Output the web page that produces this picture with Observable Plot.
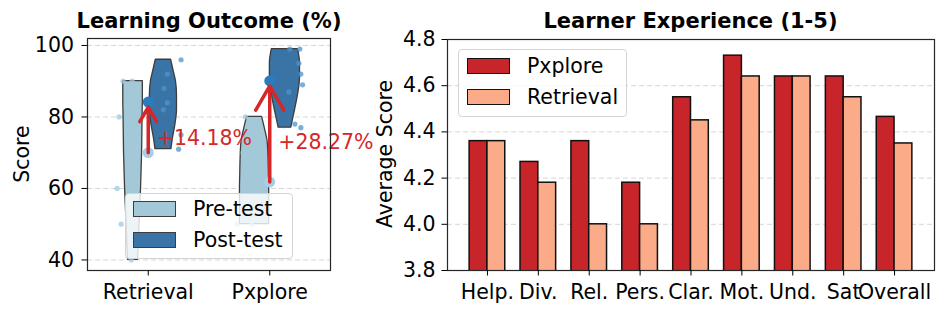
<!DOCTYPE html>
<html><head><meta charset="utf-8">
<script src="https://cdn.jsdelivr.net/npm/d3@7"></script>
<script src="https://cdn.jsdelivr.net/npm/@observablehq/plot@0.6"></script>
<style>
body{margin:0;background:#fff;font-family:"DejaVu Sans",sans-serif;color:#000;}
#root{position:relative;width:947px;height:316px;overflow:hidden;}
.title{position:absolute;font-weight:bold;font-size:21px;line-height:20px;white-space:nowrap;transform:translateX(-50%);}
.ylab{position:absolute;font-size:20.5px;line-height:20px;white-space:nowrap;transform:translate(-50%,-50%) rotate(-90deg);}
.legend{position:absolute;background:rgba(255,255,255,0.8);border:1px solid #d4d4d4;border-radius:4px;box-sizing:border-box;}
.sw{position:absolute;box-sizing:border-box;}
.lt{position:absolute;font-size:20.5px;line-height:20px;white-space:nowrap;}
</style>
</head><body>
<div id="root"></div>
<script>
// ---------- Learning Outcome data ----------
const groups = ["Retrieval", "Pxplore"];
const tests = ["Pre-test", "Post-test"];
const preMean = [70.0, 61.82];
const postMean = [84.18, 90.09];
const gainLabels = ["+14.18%", "+28.27%"];

// violin profiles (score level, relative density)
const retPreScore  = [40, 45, 50, 55, 60, 70, 80, 85, 90];
const retPreDens   = [0.33, 0.39, 0.43, 0.48, 0.53, 0.6, 0.63, 0.65, 0.65];
const retPostScore = [71, 74, 78, 82, 86, 90, 93, 96];
const retPostDens  = [0.53, 0.63, 0.8, 0.9, 0.9, 0.83, 0.67, 0.51];
const pxPreScore   = [50, 55, 60, 64, 68, 73, 77, 80];
const pxPreDens    = [0.97, 0.97, 0.97, 0.95, 0.93, 0.87, 0.67, 0.5];
const pxPostScore  = [77, 80, 84, 87, 91, 95, 99];
const pxPostDens   = [0.42, 0.57, 0.77, 0.9, 1.0, 1.0, 0.87];

// individual scores with their horizontal jitter
const retPrePts   = [90, 90, 80, 60, 50, 40];
const retPreJit   = [-0.207, -0.132, -0.24, -0.256, -0.223, -0.14];
const retPostPts  = [96, 92, 88, 84, 82, 75, 71];
const retPostJit  = [0.27, 0.157, 0.13, 0.157, 0.124, 0.27, 0.25];
const pxPrePts    = [80, 70, 50, 50];
const pxPreJit    = [-0.2, -0.22, -0.27, -0.15];
const pxPostPts   = [99, 99, 95, 92, 89, 87, 78, 77];
const pxPostJit   = [0.165, 0.248, 0.24, 0.256, 0.27, 0.157, 0.207, 0.256];

// ---------- Learner Experience data ----------
const criteria  = ["Help.", "Div.", "Rel.", "Pers.", "Clar.", "Mot.", "Und.", "Sat", "Overall"];
const methods   = ["Pxplore", "Retrieval"];
const pxploreScores   = [4.36, 4.27, 4.36, 4.18, 4.55, 4.73, 4.64, 4.64, 4.465];
const retrievalScores = [4.36, 4.18, 4.00, 4.00, 4.45, 4.64, 4.64, 4.55, 4.35];
const expTicks = [3.8, 4.0, 4.2, 4.4, 4.6, 4.8];
const outTicks = [40, 60, 80, 100];

// ---------- colours ----------
const preColor = "#a3c8d8", postColor = "#3a74a6";
const preDot = "#a6cfe6", postDot = "#2b7bbf";
const pxColor = "#c8252b", rtColor = "#fcab88";
const red = "#d62728";

const root = document.getElementById("root");
function add(html){ const d = document.createElement("div"); d.innerHTML = html; const el = d.firstElementChild; root.appendChild(el); return el; }

// ---------- left plot ----------
const off = 0.125, halfW = 0.124;
const profiles = [
  [0, 0, retPreScore, retPreDens], [0, 1, retPostScore, retPostDens],
  [1, 0, pxPreScore, pxPreDens], [1, 1, pxPostScore, pxPostDens]
];
const vrows = profiles.flatMap(([g, t, s, d]) => s.map((v, i) => ({g, t, key: g + "-" + t, score: v, d: d[i]})));
const vcx = r => r.g + (r.t === 0 ? -off : off);
const ptsSets = [[0, 0, retPrePts, retPreJit], [0, 1, retPostPts, retPostJit], [1, 0, pxPrePts, pxPreJit], [1, 1, pxPostPts, pxPostJit]];
const pts = ptsSets.flatMap(([g, t, s, j]) => s.map((v, i) => ({g, t, score: v, x: g + j[i]})));
const idx = groups.map((_, i) => i);

const left = Plot.plot({
  width: 380, height: 316,
  marginLeft: 87, marginRight: 50, marginTop: 38, marginBottom: 46,
  style: {fontFamily: "DejaVu Sans", fontSize: "20.5px", color: "#000", background: "transparent"},
  x: {domain: [-0.5, 1.5]},
  y: {domain: [37.05, 101.95]},
  marks: [
    Plot.gridY(outTicks, {stroke: "#d6d6d6", strokeOpacity: 1, strokeDasharray: "5,3"}),
    ...[0, 1].map(t => Plot.areaX(vrows.filter(r => r.t === t), {
      y: "score", x1: r => vcx(r) - halfW * r.d, x2: r => vcx(r) + halfW * r.d, z: "key",
      fill: t === 0 ? preColor : postColor, stroke: "#3d3d3d", strokeWidth: 1.3, curve: "monotone-y"
    })),
    Plot.dot(pts, {x: "x", y: "score", r: 2.6, fill: r => r.t === 0 ? "#9ecae1" : "#4e94cc", fillOpacity: 0.75, stroke: null}),
    Plot.dot(idx, {x: i => i, y: i => preMean[i], r: 5.5, fill: preDot}),
    Plot.dot(idx, {x: i => i, y: i => postMean[i], r: 5.5, fill: postDot}),
    Plot.arrow(idx, {x1: i => i, y1: i => preMean[i], x2: i => i, y2: i => postMean[i], stroke: red, strokeWidth: 3.5, headLength: 12, insetEnd: 5, bend: 0}),
    Plot.text(idx, {x: i => i + 0.07, y: i => (preMean[i] + postMean[i]) / 2 - 3, text: i => gainLabels[i], textAnchor: "start", fill: red, fontSize: 20.5}),
    Plot.frame({stroke: "#262626", strokeWidth: 1.2}),
    Plot.axisY({ticks: outTicks, tickSize: 5.5, tickPadding: 8, label: null, tickFormat: d => String(d)}),
    Plot.axisX({ticks: idx, tickSize: 5.5, tickPadding: 8, label: null, tickFormat: i => groups[i]})
  ]
});
left.style.position = "absolute"; left.style.left = "0px"; left.style.top = "0px";
root.appendChild(left);

// ---------- right plot ----------
const bw = 0.35;
const bars = criteria.flatMap((c, i) => [
  {i, m: 0, v: pxploreScores[i]},
  {i, m: 1, v: retrievalScores[i]}
]);
const right = Plot.plot({
  width: 600, height: 316,
  marginLeft: 100, marginRight: 13, marginTop: 39, marginBottom: 46,
  style: {fontFamily: "DejaVu Sans", fontSize: "20.5px", color: "#000", background: "transparent"},
  x: {domain: [-0.785, 8.785]},
  y: {domain: [3.8, 4.8]},
  marks: [
    Plot.gridY(expTicks, {stroke: "#d6d6d6", strokeOpacity: 1, strokeDasharray: "5,3"}),
    Plot.rectY(bars, {
      x1: d => d.m === 0 ? d.i - bw : d.i, x2: d => d.m === 0 ? d.i : d.i + bw,
      y1: 0, y2: "v", fill: d => d.m === 0 ? pxColor : rtColor, stroke: "#111", strokeWidth: 1.5, clip: true
    }),
    Plot.frame({stroke: "#262626", strokeWidth: 1.2}),
    Plot.axisY({ticks: expTicks, tickSize: 5.5, tickPadding: 6.5, label: null, tickFormat: d => d.toFixed(1)}),
    Plot.axisX({ticks: criteria.map((_, i) => i), tickSize: 5.5, tickPadding: 8, label: null, tickFormat: i => criteria[i]})
  ]
});
right.style.position = "absolute"; right.style.left = "347px"; right.style.top = "0px";
root.appendChild(right);

// ---------- titles & labels ----------
add(`<div class="title" style="left:209px;top:11px">Learning Outcome (%)</div>`);
add(`<div class="title" style="left:690.5px;top:11px">Learner Experience (1-5)</div>`);
add(`<div class="ylab" style="left:22px;top:154px">Score</div>`);
add(`<div class="ylab" style="left:385px;top:154px">Average Score</div>`);

// ---------- legends ----------
const lg1 = add(`<div class="legend" style="left:125px;top:193px;width:168px;height:66px"></div>`);
tests.forEach((t, k) => {
  const top = 7 + k * 31;
  lg1.insertAdjacentHTML("beforeend",
    `<div class="sw" style="left:7px;top:${top}px;width:43px;height:16px;background:${k === 0 ? preColor : postColor};border:1.5px solid #3d3d3d"></div>` +
    `<div class="lt" style="left:67px;top:${top - 2}px">${t}</div>`);
});
const lg2 = add(`<div class="legend" style="left:458px;top:49px;width:169px;height:68px"></div>`);
methods.forEach((m, k) => {
  const top = 8 + k * 31;
  lg2.insertAdjacentHTML("beforeend",
    `<div class="sw" style="left:8px;top:${top}px;width:43px;height:16px;background:${k === 0 ? pxColor : rtColor};border:1.5px solid #111"></div>` +
    `<div class="lt" style="left:68px;top:${top - 2}px">${m}</div>`);
});
</script>
</body></html>
